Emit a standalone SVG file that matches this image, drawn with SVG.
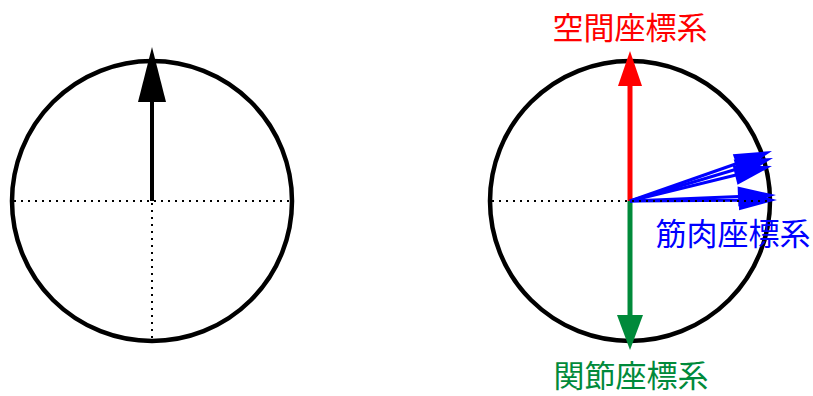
<svg xmlns="http://www.w3.org/2000/svg" width="813" height="396" viewBox="0 0 813 396">
<style>
.circ{fill:none;stroke:#000;stroke-width:4.5}
.dot{stroke:#000;stroke-width:2;stroke-dasharray:2 5;fill:none}
.lbl{font-family:"Noto Sans CJK JP","Noto Sans CJK SC",sans-serif;font-size:31px;text-anchor:middle}
</style>
<rect width="813" height="396" fill="#fff"/>
<g id="left-circle">
<circle class="circ" cx="152" cy="201" r="140"/>
<line class="dot" x1="14" y1="201" x2="290" y2="201"/>
<line class="dot" x1="152" y1="203" x2="152" y2="339"/>
</g>
<g id="right-circle">
<circle class="circ" cx="630" cy="201" r="140"/>
</g>
<g id="connectors">
<g id="left-arrow">
<line x1="152" y1="201" x2="152" y2="98" stroke="#000" stroke-width="4"/>
<polygon points="152,47 166,102 138,102" fill="#000"/>
</g>
<g id="red-arrow">
<line x1="630" y1="201" x2="630" y2="84" stroke="#f00" stroke-width="5"/>
<polygon points="630,51 642,86 618,86" fill="#f00"/>
</g>
<g id="green-arrow">
<line x1="630" y1="201" x2="630" y2="318" stroke="#008a3a" stroke-width="5"/>
<polygon points="630,350 643,315 617,315" fill="#008a3a"/>
</g>
<g id="blue-arrows" fill="#00f" stroke="#00f">
<line x1="630" y1="201" x2="737" y2="163.5" stroke-width="3"/>
<polygon points="772,151 739.5,173.1 732.8,154.2" stroke="none"/>
<line x1="630" y1="201" x2="737" y2="169" stroke-width="3"/>
<polygon points="773,158 739.5,178.5 733.7,159.4" stroke="none"/>
<line x1="630" y1="201" x2="736" y2="175" stroke-width="3"/>
<polygon points="772,166 737.5,184.8 732.7,165.4" stroke="none"/>
<line x1="630" y1="201" x2="739" y2="196.6" stroke-width="3"/>
<polygon points="776,195 738.4,206.6 737.6,186.6" stroke="none"/>
<line x1="630" y1="201" x2="740" y2="200.3" stroke-width="3"/>
<polygon points="777,200 739.1,210.3 738.9,190.3" stroke="none"/>
</g>
</g>
<g id="right-dots">
<line class="dot" x1="492" y1="201" x2="768" y2="201"/>
</g>
<g id="labels">
<text class="lbl" x="630" y="39" fill="#f00">空間座標系</text>
<text class="lbl" x="733" y="245" fill="#00f">筋肉座標系</text>
<text class="lbl" x="631" y="387" fill="#008a3a">関節座標系</text>
</g>
</svg>
